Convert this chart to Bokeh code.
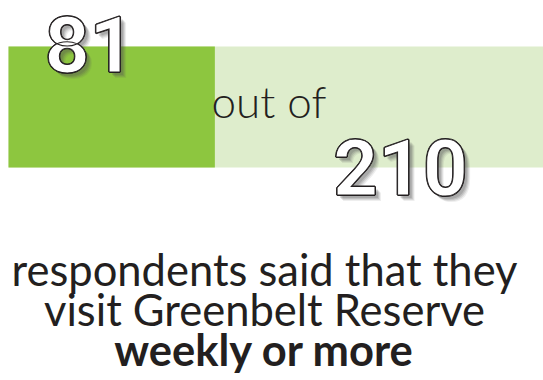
from bokeh.plotting import figure
from bokeh.models import Range1d
from bokeh.core.properties import value
from bokeh.embed import file_html
from bokeh.resources import INLINE

# Data
count_weekly = 81
count_total = 210
label_mid = "out of"
caption_lines = ["respondents said that they", "visit Greenbelt Reserve"]
caption_bold = "weekly or more"

W, H = 543, 380
X0 = 8                       # left edge of bar in px
S = (W - X0) / count_total   # px per unit

p = figure(width=W, height=H, output_backend="svg", toolbar_location=None,
           x_range=Range1d(-X0 / S, (W - X0) / S), y_range=Range1d(0, H),
           min_border=0)
p.axis.visible = False
p.grid.visible = False
p.outline_line_color = None
p.background_fill_color = "white"
p.border_fill_color = "white"

def dx(px):   # page px -> data x
    return (px - X0) / S

def ypos(baseline_px, fs):  # page baseline px -> data y (with baseline correction)
    return H - (baseline_px - 0.37 * fs)

# bars
p.hbar(y=[H - 106.5], left=[0], right=[count_total], height=121,
       color="#deedcc", line_color=None)
p.hbar(y=[H - 106.5], left=[0], right=[count_weekly], height=121,
       color="#8dc63f", line_color=None)

FS_BIG = 78
big = dict(text_font=value("Roboto"), text_font_size=f"{FS_BIG}px", text_font_style="bold",
           text_align="center", text_baseline="alphabetic")

def outlined(xc_px, base_px, txt):
    yb = ypos(base_px, FS_BIG)
    for ox, oy, a in [(6, -6, 0.10), (5, -5, 0.14), (4, -4, 0.18), (3, -3, 0.22)]:
        p.text(x=[dx(xc_px + ox)], y=[yb + oy], text=[txt], text_color="#555555",
               text_alpha=a, **big)
    for ox, oy in [(-1, 0), (1, 0), (0, -1), (0, 1)]:
        p.text(x=[dx(xc_px + ox)], y=[yb + oy], text=[txt], text_color="#231f20", **big)
    p.text(x=[dx(xc_px)], y=[yb], text=[txt], text_color="white",
           text_outline_color="#231f20", **big)

outlined(89, 72.5, str(count_weekly))
p.text(x=[dx(211)], y=[ypos(117, 44)], text=[label_mid], text_color="#231f20",
       text_font=value("Lato Light"), text_font_size="44px",
       text_align="left", text_baseline="alphabetic")
outlined(400, 195, str(count_total))

FS_CAP = 43.5
cap = dict(text_font=value("Lato"), text_font_size=f"{FS_CAP}px", text_color="#231f20",
           text_align="center", text_baseline="alphabetic")
p.text(x=[dx(264)], y=[ypos(285, FS_CAP)], text=[caption_lines[0]], **cap)
p.text(x=[dx(264)], y=[ypos(325, FS_CAP)], text=[caption_lines[1]], **cap)
p.text(x=[dx(264)], y=[ypos(365, FS_CAP)], text=[caption_bold], text_font_style="bold", **cap)

open("out.html", "w").write(file_html(p, INLINE))
